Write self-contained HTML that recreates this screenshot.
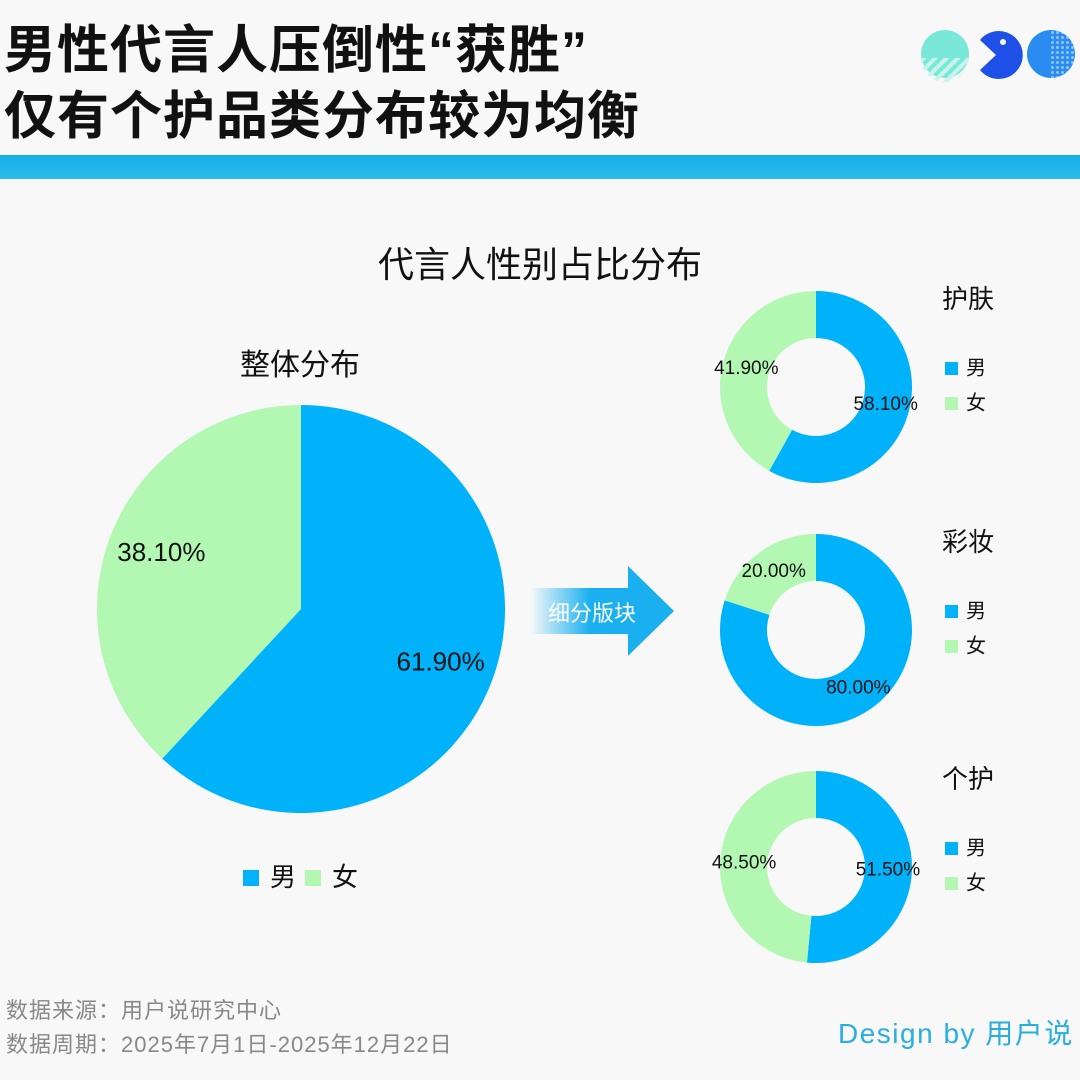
<!DOCTYPE html>
<html><head><meta charset="utf-8">
<style>
body{margin:0;width:1080px;height:1080px;background:#f8f8f8;font-family:"Liberation Sans","Noto Sans CJK SC",sans-serif;overflow:hidden;position:relative}
.t{position:absolute;white-space:nowrap}
</style></head><body>
<div class="t" style="left:4px;top:20px;font-size:52px;font-weight:bold;color:#111;line-height:62px;letter-spacing:1px">男性代言人压倒性“获胜”</div>
<div class="t" style="left:4px;top:86px;font-size:52px;font-weight:bold;color:#111;line-height:62px;letter-spacing:1px">仅有个护品类分布较为均衡</div>
<div style="position:absolute;left:0;top:155px;width:1080px;height:24px;background:linear-gradient(#16aee6,#2cbcec)"></div>
<svg style="position:absolute;left:900px;top:0" width="180" height="100">
<defs><pattern id="st" width="8" height="8" patternUnits="userSpaceOnUse" patternTransform="rotate(45)"><rect width="4" height="8" fill="#c8f4ec"/></pattern>
<pattern id="dt" width="5" height="5" patternUnits="userSpaceOnUse"><circle cx="2.5" cy="2.5" r="1.5" fill="#8cc4f8"/></pattern></defs>
<circle cx="45" cy="54" r="24" fill="#7ae8d8"/><path d="M21 58 A24 24 0 0 0 69 58 Z" fill="url(#st)"/>
<path d="M80 40 A24 24 0 1 1 80 70 L96 55 Z" fill="#1e50e8"/><circle cx="103" cy="42" r="3" fill="#fff"/>
<circle cx="151" cy="54" r="24" fill="#2a8cf0"/><path d="M151 30 A24 24 0 0 1 151 78 Z" fill="url(#dt)"/>
</svg>
<div class="t" style="left:0;width:1080px;text-align:center;top:236px;font-size:36px;color:#111">代言人性别占比分布</div>
<div class="t" style="left:240px;top:340px;font-size:30px;color:#111">整体分布</div>
<svg id="chart" width="1080" height="1080" style="position:absolute;left:0;top:0"></svg>
<div style="position:absolute;left:530px;top:588px;width:100px;height:46px;background:linear-gradient(90deg,rgba(26,176,240,0),#1ab0f0 60%)"></div>
<div style="position:absolute;left:628px;top:566px;width:0;height:0;border-top:45px solid transparent;border-bottom:45px solid transparent;border-left:46px solid #1ab0f0"></div>
<div class="t" style="left:548px;top:596px;font-size:22px;color:#fff">细分版块</div>
<div class="t" style="left:6px;top:993px;font-size:22px;color:#888;letter-spacing:1px">数据来源：用户说研究中心</div>
<div class="t" style="left:6px;top:1027px;font-size:22px;color:#888;letter-spacing:1px">数据周期：2025年7月1日-2025年12月22日</div>
<div class="t" style="left:838px;top:1012px;font-size:28px;color:#2aaee0;letter-spacing:1.5px">Design by 用户说</div>
<script>
const categories=["男","女"];
const overall=[61.9,38.1];
const subNames=["护肤","彩妆","个护"];
const subMale=[58.1,80.0,51.5];
const colors=["#00b2fa","#b2f8b2"];
const svg=document.getElementById('chart');
const NS="http://www.w3.org/2000/svg";
function pt(cx,cy,r,f){const a=f*2*Math.PI;return [cx+r*Math.sin(a),cy-r*Math.cos(a)];}
function arc(cx,cy,ro,ri,f0,f1){
 const large=(f1-f0)>0.5?1:0;
 const [x0,y0]=pt(cx,cy,ro,f0),[x1,y1]=pt(cx,cy,ro,f1);
 if(ri<=0)return `M${cx},${cy}L${x0},${y0}A${ro},${ro} 0 ${large} 1 ${x1},${y1}Z`;
 const [x2,y2]=pt(cx,cy,ri,f1),[x3,y3]=pt(cx,cy,ri,f0);
 return `M${x0},${y0}A${ro},${ro} 0 ${large} 1 ${x1},${y1}L${x2},${y2}A${ri},${ri} 0 ${large} 0 ${x3},${y3}Z`;}
function text(x,y,s,size,name,anchor){const t=document.createElementNS(NS,'text');t.setAttribute('x',x);t.setAttribute('y',y);t.setAttribute('font-size',size);t.setAttribute('fill','#111');t.setAttribute('text-anchor',anchor||'middle');t.setAttribute('dominant-baseline','middle');t.textContent=s;


svg.appendChild(t);}
function pie(cx,cy,ro,ri,vals,lr,size,prefix){
 const tot=vals.reduce((a,b)=>a+b,0);let acc=0;
 vals.forEach((v,i)=>{const f0=acc/tot,f1=(acc+v)/tot;acc+=v;
  const p=document.createElementNS(NS,'path');p.setAttribute('d',arc(cx,cy,ro,ri,f0,f1));p.setAttribute('fill',colors[i]);
  
  
  svg.appendChild(p);
  const [lx,ly]=pt(cx,cy,lr,(f0+f1)/2);
  text(lx,ly,v.toFixed(2)+'%',size,prefix+'-label-'+(i?'female':'male'));});}
pie(301,609,204,0,overall,150,26,'overall');
[0,1].forEach(i=>{const r=document.createElementNS(NS,'rect');r.setAttribute('x',243+i*62);r.setAttribute('y',870);r.setAttribute('width',16);r.setAttribute('height',16);r.setAttribute('fill',colors[i]);


svg.appendChild(r);text(270+i*62,879,categories[i],26,'overall-legend-entry','start');});
const cys=[387,630,867];
subNames.forEach((n,k)=>{const cy=cys[k];
 pie(816,cy,96,49,[subMale[k],100-subMale[k]],72,19,'donut-'+k);
 text(942,cy-86,n,26,'donut-title-'+k,'start');
 [0,1].forEach(i=>{const r=document.createElementNS(NS,'rect');r.setAttribute('x',945);r.setAttribute('y',cy-25+i*35);r.setAttribute('width',13);r.setAttribute('height',13);r.setAttribute('fill',colors[i]);
 
 
 svg.appendChild(r);text(966,cy-18+i*35,categories[i],20,'donut-legend-entry','start');});});
</script>
</body></html>
